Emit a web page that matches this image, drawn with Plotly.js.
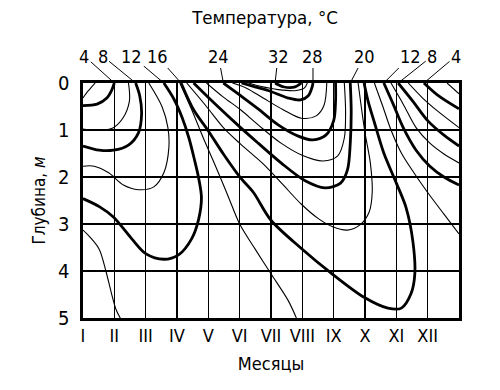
<!DOCTYPE html>
<html>
<head>
<meta charset="utf-8">
<script src="https://cdn.plot.ly/plotly-3.0.1.min.js"></script>
<style>
  html, body { margin: 0; padding: 0; background: #fff; }
  #chart { width: 500px; height: 390px; }
</style>
</head>
<body>
<div id="chart"></div>
<script>
// Month tick labels (x = month index, 0 = start of January)
const monthLabels = ['I','II','III','IV','V','VI','VII','VIII','IX','X','XI','XII'];
const depthTicks = [0, 1, 2, 3, 4, 5];

// Isotherms (°C): month position and depth (m)
// Winter / early spring branch (cold surface)
const t2w_month = [0, 0.15, 0.27, 0.39];
const t2w_depth = [0.32, 0.18, 0.09, 0];
const t4w_month = [0, 0.45, 0.76, 0.91, 1.0];
const t4w_depth = [0.48, 0.45, 0.32, 0.16, 0];
const t6w_month = [0, 0.52, 0.97, 1.29, 1.48, 1.48, 1.45];
const t6w_depth = [0.98, 1.01, 0.95, 0.73, 0.39, 0.16, 0];
const t8w_month = [0, 0.52, 0.97, 1.45, 1.77, 1.87, 1.81, 1.68];
const t8w_depth = [1.34, 1.43, 1.43, 1.32, 1.06, 0.66, 0.27, 0];
const t10w_month = [0, 0.36, 0.82, 1.29, 1.77, 2.26, 2.58, 2.74, 2.71, 2.52, 2.10];
const t10w_depth = [1.77, 1.77, 1.91, 2.17, 2.27, 2.21, 1.91, 1.38, 0.95, 0.5, 0];
const t12w_month = [0, 0.52, 0.97, 1.55, 2.0, 2.58, 3.06, 3.47, 3.69, 3.78, 3.69, 3.56, 3.38, 3.16, 2.9, 2.58];
const t12w_depth = [2.46, 2.63, 2.85, 3.31, 3.63, 3.75, 3.65, 3.31, 2.90, 2.44, 2.02, 1.64, 1.17, 0.73, 0.34, 0];
const t14w_month = [0, 0.21, 0.52, 0.73, 0.91, 1.06, 1.19];
const t14w_depth = [3.13, 3.27, 3.54, 4.0, 4.48, 4.83, 5.0];

// Warm season (spring branch -> autumn branch)
const t14s_month = [3.09, 3.47, 3.84, 4.16, 4.39, 4.65, 5.0, 5.5, 6.0, 6.55, 6.81];
const t14s_depth = [0, 0.57, 1.17, 1.66, 2.02, 2.44, 3.0, 3.54, 4.06, 4.63, 5.0];
const t16_month = [3.13, 3.53, 4.0, 4.48, 5.03, 5.44, 6.0, 6.97, 7.91, 8.97, 9.73, 10.16, 10.47, 10.59, 10.53, 10.31, 10.0, 9.6, 9.3, 9.1, 8.97];
const t16_depth = [0, 0.57, 1.02, 1.51, 2.02, 2.33, 2.92, 3.52, 4.04, 4.56, 4.79, 4.79, 4.48, 4.06, 3.38, 2.65, 2.13, 1.49, 0.84, 0.39, 0];
const t18_month = [3.31, 3.94, 4.48, 5.03, 5.75, 6.39, 6.97, 7.5, 7.97, 8.44, 8.84, 9.13, 9.23, 9.17, 9.0, 8.88, 8.78];
const t18_depth = [0, 0.5, 0.95, 1.3, 1.72, 2.17, 2.58, 2.88, 3.06, 3.13, 3.02, 2.75, 2.33, 1.70, 1.06, 0.5, 0];
const t20_month = [3.53, 4.16, 5.03, 5.59, 6.32, 7.09, 7.72, 8.22, 8.44, 8.53, 8.56, 8.53];
const t20_depth = [0, 0.41, 0.95, 1.28, 1.70, 2.08, 2.23, 2.13, 1.85, 1.28, 0.61, 0];
const t22_month = [3.94, 4.48, 5.03, 5.59, 6.32, 7.03, 7.66, 8.13, 8.34, 8.38, 8.34];
const t22_depth = [0, 0.30, 0.57, 0.89, 1.28, 1.55, 1.66, 1.55, 1.17, 0.61, 0];
const t24_month = [4.48, 5.03, 5.59, 6.23, 6.87, 7.34, 7.75, 8.0, 8.06, 8.06];
const t24_depth = [0, 0.27, 0.55, 0.89, 1.13, 1.21, 1.11, 0.80, 0.39, 0];
const t26_month = [4.77, 5.22, 5.75, 6.39, 6.97, 7.44, 7.69, 7.78];
const t26_depth = [0, 0.11, 0.32, 0.57, 0.75, 0.70, 0.48, 0];
const t28_month = [5.06, 5.44, 5.91, 6.55, 6.94, 7.19, 7.31, 7.34];
const t28_depth = [0, 0.07, 0.16, 0.32, 0.36, 0.27, 0.09, 0];
const t30_month = [5.28, 5.66, 6.23, 6.81, 7.06, 7.16];
const t30_depth = [0, 0.07, 0.14, 0.16, 0.11, 0];
const t32_month = [6.13, 6.39, 6.74, 6.97];
const t32_depth = [0, 0.08, 0.09, 0];

// Autumn cooling branch
const t14a_month = [9.3, 9.57, 9.83, 10.16, 10.56, 11.0, 11.52, 12.0];
const t14a_depth = [0, 0.5, 1.0, 1.49, 1.91, 2.33, 2.79, 3.21];
const t12a_month = [9.6, 9.9, 10.22, 10.63, 11.07, 11.52, 12.0];
const t12a_depth = [0, 0.45, 0.95, 1.43, 1.77, 2.0, 2.17];
const t10a_month = [9.83, 10.22, 10.63, 11.07, 11.52, 12.0];
const t10a_depth = [0, 0.45, 0.95, 1.28, 1.51, 1.70];
const t8a_month = [10.06, 10.53, 11.0, 11.52, 12.0];
const t8a_depth = [0, 0.39, 0.8, 1.11, 1.34];
const t6a_month = [10.38, 10.84, 11.34, 12.0];
const t6a_depth = [0, 0.32, 0.61, 0.95];
const t4a_month = [10.88, 11.34, 12.0];
const t4a_depth = [0, 0.27, 0.55];
const t2a_month = [11.62, 12.0];
const t2a_depth = [0, 0.23];

// Labels at the top edge: temperature text and the isotherm it points to
const topLabels = ['4', '8', '12', '16', '24', '32', '28', '20', '12', '8', '4'];

const isotherms = [
  [2, t2w_month, t2w_depth], [4, t4w_month, t4w_depth], [6, t6w_month, t6w_depth],
  [8, t8w_month, t8w_depth], [10, t10w_month, t10w_depth], [12, t12w_month, t12w_depth],
  [14, t14w_month, t14w_depth], [14, t14s_month, t14s_depth], [16, t16_month, t16_depth],
  [18, t18_month, t18_depth], [20, t20_month, t20_depth], [22, t22_month, t22_depth],
  [24, t24_month, t24_depth], [26, t26_month, t26_depth], [28, t28_month, t28_depth],
  [30, t30_month, t30_depth], [32, t32_month, t32_depth], [14, t14a_month, t14a_depth],
  [12, t12a_month, t12a_depth], [10, t10a_month, t10a_depth], [8, t8a_month, t8a_depth],
  [6, t6a_month, t6a_depth], [4, t4a_month, t4a_depth], [2, t2a_month, t2a_depth]
];

const traces = isotherms.map(([temp, xs, ys]) => ({
  type: 'scatter', mode: 'lines', x: xs, y: ys,
  name: temp + ' °C', showlegend: false, hoverinfo: 'skip',
  line: { color: '#000', width: (temp % 4 === 0) ? 2.8 : 1.1, shape: 'spline', smoothing: 0.9 }
}));

// surface points the labels point to (taken from the isotherm arrays)
const surf = (arr, first) => first ? arr[0] : arr[arr.length - 1];
const labelTargets = [
  surf(t4w_month), surf(t8w_month), surf(t12w_month), surf(t16_month, true),
  surf(t24_month, true), surf(t32_month, true), surf(t28_month), surf(t20_month),
  surf(t12a_month, true), surf(t8a_month, true), surf(t4a_month, true)
];
const offX = [-30, -33, -32, -24, -5, 3, 0, 14, 27, 34, 32];

const FONT = "'DejaVu Sans Condensed', 'Liberation Sans Narrow', 'Arial Narrow', sans-serif";

const annotations = topLabels.map((t, i) => ({
  x: labelTargets[i], y: 0, xref: 'x', yref: 'y',
  text: t, showarrow: true, arrowhead: 0, arrowwidth: 1, arrowcolor: '#000',
  ax: offX[i], ay: -27, standoff: 0, startstandoff: 0,
  font: { family: FONT, size: 18, color: '#000' }
}));

const layout = {
  width: 500, height: 390,
  margin: { l: 83, r: 41, t: 83, b: 72 },
  paper_bgcolor: '#fff', plot_bgcolor: '#fff',
  font: { family: FONT, size: 17, color: '#000' },
  title: { text: 'Температура, °C', x: 0.53, xanchor: 'center', y: 0.955, yanchor: 'middle',
           font: { family: FONT, size: 18.5, color: '#000' } },
  xaxis: {
    range: [0, 12], tickvals: [0,1,2,3,4,5,6,7,8,9,10,11,12],
    ticktext: monthLabels.concat(['']),
    showgrid: true, gridcolor: '#000', gridwidth: 1.5, zeroline: false,
    showline: true, linecolor: '#000', linewidth: 2.6, mirror: true,
    ticks: '', ticklabelstandoff: 0,
    tickfont: { family: FONT, size: 18, color: '#000' },
    title: { text: 'Месяцы', standoff: 12, font: { family: FONT, size: 18, color: '#000' } }
  },
  yaxis: {
    range: [5, 0], tickvals: depthTicks, ticktext: depthTicks.map(String),
    showgrid: true, gridcolor: '#000', gridwidth: 1.5, zeroline: false,
    showline: true, linecolor: '#000', linewidth: 2.6, mirror: true,
    ticks: '', ticklabelstandoff: 7,
    tickfont: { family: FONT, size: 20, color: '#000' },
    title: { text: 'Глубина, <i>м</i>', standoff: 8, font: { family: FONT, size: 17, color: '#000' } }
  },
  annotations: annotations
};

Plotly.newPlot('chart', traces, layout, { displayModeBar: false, staticPlot: true });
</script>
</body>
</html>
